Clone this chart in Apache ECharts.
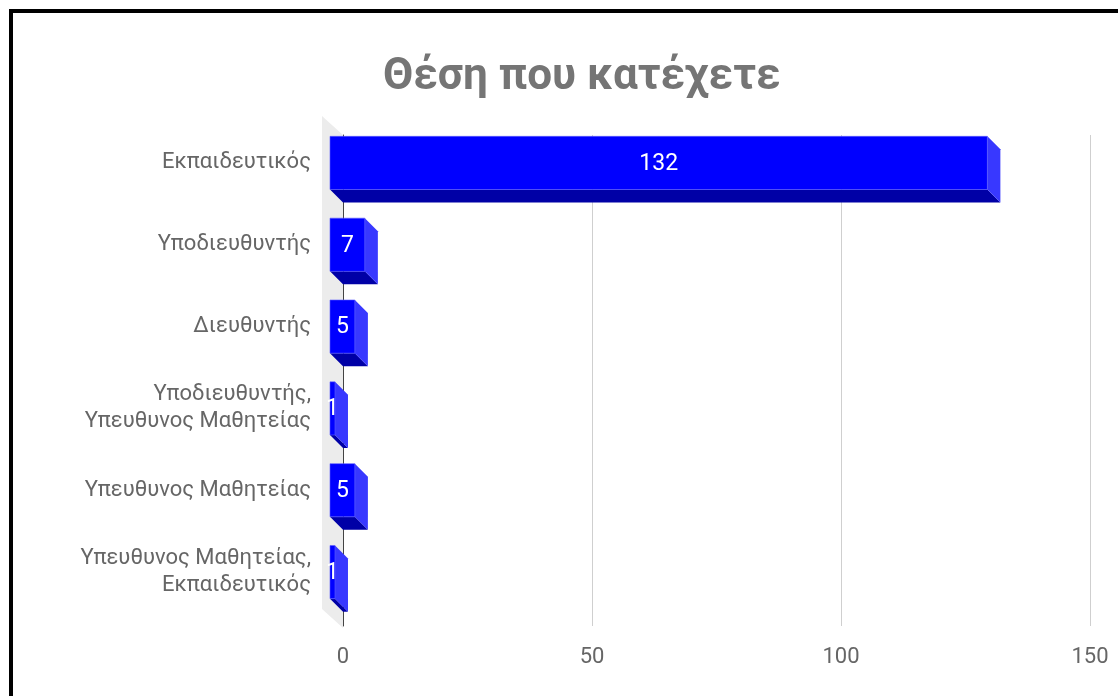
<!DOCTYPE html>
<html>
<head>
<meta charset="utf-8">
<script src="https://cdn.jsdelivr.net/npm/echarts@6/dist/echarts.min.js"></script>
<style>
  html, body { margin: 0; padding: 0; background: #fff; overflow: hidden; }
  #frame { position: absolute; left: 9px; top: 9px; width: 1200px; height: 800px; border: 4px solid #000; box-sizing: border-box; }
  #chart { position: absolute; left: 0; top: 0; width: 1118px; height: 696px; }
</style>
</head>
<body>
<div id="frame"></div>
<div id="chart"></div>
<script>
// Position held by respondents
const categories = [
  'Εκπαιδευτικός',
  'Υποδιευθυντής',
  'Διευθυντής',
  'Υποδιευθυντής,\nΥπευθυνος Μαθητείας',
  'Υπευθυνος Μαθητείας',
  'Υπευθυνος Μαθητείας,\nΕκπαιδευτικός'
];
const counts = [132, 7, 5, 1, 5, 1];
const xTicks = [0, 50, 100, 150];

const DEPTH = 13;          // 3D extrusion offset in px
const BAR_RATIO = 0.65;    // bar thickness relative to band
const FONT = 'Roboto, "Noto Sans", sans-serif';

const chart = echarts.init(document.getElementById('chart'), null, { renderer: 'canvas' });

function renderBar(params, api) {
  const i = api.value(0);
  const v = api.value(1);
  const p0 = api.coord([0, i]);
  const p1 = api.coord([v, i]);
  const band = api.size([0, 1])[1];
  const h = band * BAR_RATIO;
  const x0 = p0[0], x1 = p1[0];
  const y0 = p0[1] - h / 2, y1 = p0[1] + h / 2;
  const d = DEPTH;
  return {
    type: 'group',
    children: [
      { type: 'polygon', shape: { points: [[x0, y1], [x1, y1], [x1 + d, y1 + d], [x0 + d, y1 + d]] },
        style: { fill: '#0000a6' } },
      { type: 'polygon', shape: { points: [[x1, y0], [x1 + d, y0 + d], [x1 + d, y1 + d], [x1, y1]] },
        style: { fill: '#3838ff' } },
      { type: 'rect', shape: { x: x0, y: y0, width: x1 - x0, height: y1 - y0 },
        style: { fill: '#0000ff', stroke: '#5c5cff', lineWidth: 0.6 } },
      { type: 'text', z2: 10,
        style: { text: String(v), x: (x0 + x1) / 2, y: p0[1] + 1, align: 'center', verticalAlign: 'middle',
                 fill: '#ffffff', font: '23px ' + FONT } }
    ]
  };
}

function renderWall(params, api) {
  const n = categories.length;
  const band = api.size([0, 1])[1];
  const top = api.coord([0, 0]);
  const bot = api.coord([0, n - 1]);
  const x = top[0];
  const yt = top[1] - band / 2;
  const yb = bot[1] + band / 2;
  return {
    type: 'polygon',
    shape: { points: [[x - 21, yt - 19], [x, yt], [x, yb + 2], [x - 21, yb - 17]] },
    style: { fill: '#ececec' }
  };
}

chart.setOption({
  animation: false,
  title: {
    text: 'Θέση που κατέχετε',
    left: 378,
    top: 51,
    textStyle: { fontFamily: FONT, fontSize: 44, fontWeight: 'bold', color: '#757575' }
  },
  grid: [
    // front plane of the bars
    { left: 330, right: 41, top: 122, bottom: 83 },
    // back plane with gridlines
    { left: 343, right: 28, top: 135, bottom: 70 }
  ],
  xAxis: [
    { gridIndex: 0, type: 'value', min: 0, max: 150, interval: 50, show: false },
    { gridIndex: 1, type: 'value', min: xTicks[0], max: xTicks[xTicks.length - 1], interval: 50,
      axisLine: { show: false }, axisTick: { show: false },
      axisLabel: { fontFamily: FONT, fontSize: 22, color: '#666', margin: 20 },
      splitLine: { lineStyle: { color: '#cfcfcf', width: 1 } } }
  ],
  yAxis: [
    { gridIndex: 0, type: 'category', data: categories, inverse: true,
      axisLine: { show: false }, axisTick: { show: false }, splitLine: { show: false },
      axisLabel: { fontFamily: FONT, fontSize: 22, color: '#666', margin: 19, lineHeight: 27, align: 'right' } },
    { gridIndex: 1, type: 'category', data: categories, inverse: true,
      axisLine: { show: true, lineStyle: { color: '#444', width: 1 } },
      axisTick: { show: false }, axisLabel: { show: false }, splitLine: { show: false } }
  ],
  series: [
    { type: 'custom', xAxisIndex: 1, yAxisIndex: 1, z: -1, silent: true,
      renderItem: renderWall, data: [[0, 0]] },
    { type: 'custom', xAxisIndex: 0, yAxisIndex: 0, z: 5,
      renderItem: renderBar,
      encode: { x: 1, y: 0 },
      data: counts.map((c, i) => [i, c]) }
  ]
});
</script>
</body>
</html>
